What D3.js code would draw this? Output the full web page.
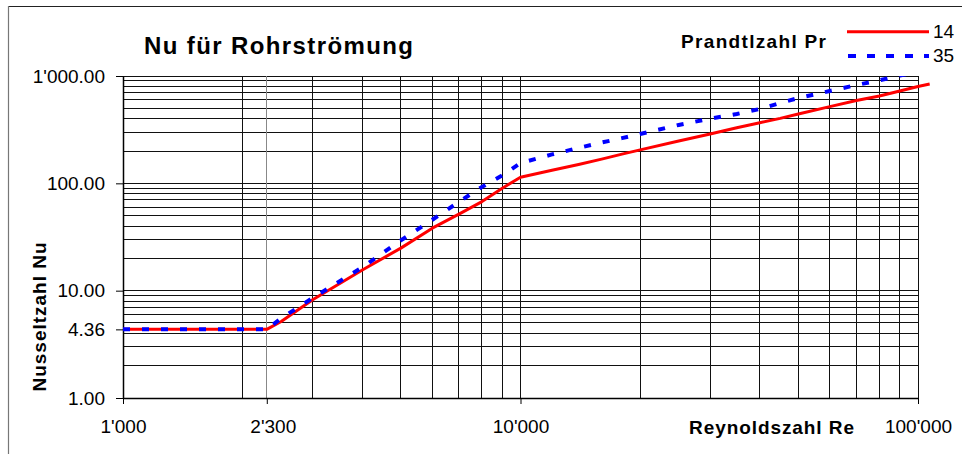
<!DOCTYPE html>
<html>
<head>
<meta charset="utf-8">
<script src="https://cdn.jsdelivr.net/npm/d3@7"></script>
<style>
  html, body { margin: 0; padding: 0; background: #fff; }
  svg { display: block; font-family: "Liberation Sans", Arial, sans-serif; }
</style>
</head>
<body>
<svg id="chart" width="962" height="454"></svg>
<script>
// ---- data ----
const reynolds = [1000, 2300, 2500, 3000, 4000, 5000, 6000, 7000, 8000, 9000, 10000,
  12000, 14000, 16000, 18000, 20000, 25000, 30000, 35000, 40000, 45000, 50000,
  60000, 70000, 80000, 90000, 100000, 107000];
const nuPr14 = [4.36, 4.36, 5.16, 8.22, 15.6, 24.9, 38.2, 51.6, 67.6, 90.1, 114,
  132.5, 150, 168, 187, 205, 248, 288, 330, 367, 403, 443,
  518, 592, 652, 725, 799, 843];
const nuPr35 = [4.36, 4.36, 5.53, 8.55, 16.5, 29.4, 45.8, 67.2, 92.7, 118.6, 154.3,
  185.9, 213.8, 240, 263.7, 288.4, 350, 400, 443, 493, 560, 624,
  725, 824, 912, 1010, 1100, 1160];
const seriesNames = ["14", "35"];
const xTickValues = [1000, 2300, 10000, 100000];
const yTickValues = [1, 4.36, 10, 100, 1000];

const titleText = "Nu für Rohrströmung";
const xTitle = "Reynoldszahl Re";
const yTitle = "Nusseltzahl Nu";
const legendTitle = "Prandtlzahl Pr";

(function () {
// ---- layout ----
const svg = d3.select("#chart");
const pL = 123, pR = 918, pT = 76, pB = 398;
const x = d3.scaleLog().domain([1000, 100000]).range([pL, pR]);
const y = d3.scaleLog().domain([1, 1000]).range([pB, pT]);

const loc = d3.formatLocale({decimal: ".", thousands: "'", grouping: [3], currency: ["", ""]});
const fx = loc.format(",d");
const fy = loc.format(",.2f");

// outer border (top + left)
svg.append("line").attr("x1", 8).attr("x2", 962).attr("y1", 6.5).attr("y2", 6.5)
  .attr("stroke", "#222").attr("stroke-width", 1.2);
svg.append("line").attr("x1", 8.5).attr("x2", 8.5).attr("y1", 6).attr("y2", 454)
  .attr("stroke", "#777").attr("stroke-width", 1.2);

// grid
const grid = svg.append("g").attr("shape-rendering", "crispEdges");
grid.selectAll(".vg").data(x.ticks()).join("line")
  .attr("x1", d => x(d)).attr("x2", d => x(d))
  .attr("y1", pT).attr("y2", pB)
  .attr("stroke", "#111").attr("stroke-width", 1);
grid.selectAll(".hg").data(y.ticks()).join("line")
  .attr("x1", pL).attr("x2", pR)
  .attr("y1", d => y(d)).attr("y2", d => y(d))
  .attr("stroke", "#111").attr("stroke-width", 1);
grid.append("line").attr("x1", x(2300)).attr("x2", x(2300))
  .attr("y1", pT).attr("y2", pB).attr("stroke", "#888");

// axes
const yAxis = d3.axisLeft(y).tickValues(yTickValues).tickFormat(fy)
  .tickSize(7).tickSizeOuter(0).tickPadding(11);
const gy = svg.append("g").attr("transform", `translate(${pL},0)`).call(yAxis);
const xAxis = d3.axisBottom(x).tickValues(xTickValues).tickFormat(fx)
  .tickSize(6).tickSizeOuter(0).tickPadding(16);
const gx = svg.append("g").attr("transform", `translate(0,${pB})`).call(xAxis);
[gx, gy].forEach(g => {
  g.selectAll("path.domain").attr("stroke", "#000").attr("stroke-width", 1.5);
  g.selectAll(".tick line").attr("stroke", "#000");
  g.selectAll("text").attr("font-size", 19).attr("fill", "#000")
    .attr("font-family", '"Liberation Sans", Arial, sans-serif');
});
gx.selectAll(".tick text").filter(d => d === 2300).attr("dx", 6);

// clip
svg.append("clipPath").attr("id", "clip").append("rect")
  .attr("x", 100).attr("y", pT).attr("width", 862).attr("height", pB - pT + 20);

const line = d3.line().x(d => x(d[0])).y(d => y(d[1]));
const plot = svg.append("g").attr("clip-path", "url(#clip)");
plot.append("path").datum(reynolds.map((r, i) => [r, nuPr14[i]]))
  .attr("d", line).attr("fill", "none").attr("stroke", "#ff0000")
  .attr("stroke-width", 3).attr("stroke-linejoin", "round");
plot.append("path").datum(reynolds.map((r, i) => [r, nuPr35[i]]))
  .attr("d", line).attr("fill", "none").attr("stroke", "#0000ff")
  .attr("stroke-width", 4).attr("stroke-dasharray", "7,12");

// titles
svg.append("text").attr("x", 144).attr("y", 54).text(titleText)
  .attr("font-size", 24).attr("font-weight", "bold")
  .attr("textLength", 269).attr("lengthAdjust", "spacing");
svg.append("text").attr("x", 689).attr("y", 433.5).text(xTitle)
  .attr("font-size", 19).attr("font-weight", "bold")
  .attr("textLength", 165).attr("lengthAdjust", "spacing");
svg.append("text").attr("transform", "translate(46,317) rotate(-90)")
  .attr("text-anchor", "middle").text(yTitle)
  .attr("font-size", 19).attr("font-weight", "bold")
  .attr("textLength", 149).attr("lengthAdjust", "spacing");

// legend
svg.append("text").attr("x", 681).attr("y", 47.5).text(legendTitle)
  .attr("font-size", 19).attr("font-weight", "bold")
  .attr("textLength", 145).attr("lengthAdjust", "spacing");
const legY = [31.7, 56];
svg.append("line").attr("x1", 847).attr("x2", 929).attr("y1", legY[0]).attr("y2", legY[0])
  .attr("stroke", "#ff0000").attr("stroke-width", 3);
svg.append("line").attr("x1", 848).attr("x2", 929).attr("y1", legY[1]).attr("y2", legY[1])
  .attr("stroke", "#0000ff").attr("stroke-width", 4).attr("stroke-dasharray", "8,11");
svg.selectAll(".legtxt").data(seriesNames).join("text")
  .attr("x", 933).attr("y", (d, i) => legY[i] + 6).text(d => d)
  .attr("font-size", 19).attr("fill", "#000");
})();
</script>
</body>
</html>
